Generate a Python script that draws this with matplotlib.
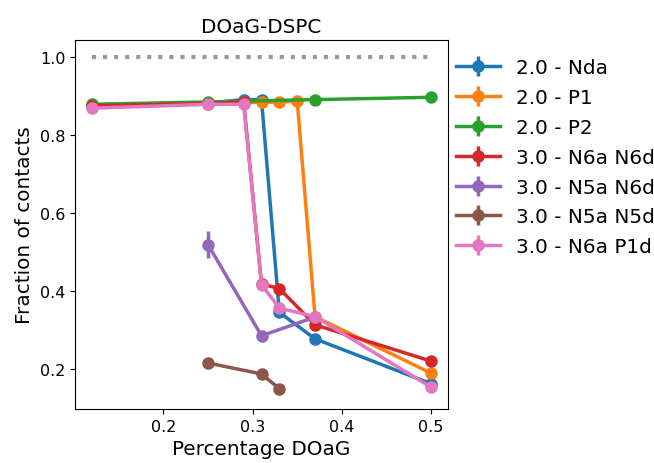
import matplotlib
matplotlib.use("Agg")
import matplotlib.pyplot as plt

# data
labels = ["2.0 - Nda", "2.0 - P1", "2.0 - P2", "3.0 - N6a N6d",
          "3.0 - N5a N6d", "3.0 - N5a N5d", "3.0 - N6a P1d"]

x_nda = [0.12, 0.25, 0.29, 0.31, 0.33, 0.37, 0.5]
y_nda = [0.875, 0.882, 0.891, 0.891, 0.345, 0.277, 0.162]

x_p1 = [0.12, 0.25, 0.29, 0.31, 0.33, 0.35, 0.37, 0.5]
y_p1 = [0.876, 0.883, 0.884, 0.884, 0.885, 0.887, 0.334, 0.189]

x_p2 = [0.12, 0.25, 0.37, 0.5]
y_p2 = [0.879, 0.885, 0.891, 0.897]

x_n6n6 = [0.12, 0.25, 0.29, 0.31, 0.33, 0.37, 0.5]
y_n6n6 = [0.875, 0.881, 0.885, 0.418, 0.406, 0.313, 0.220]

x_n5n6 = [0.25, 0.31, 0.37]
y_n5n6 = [0.519, 0.285, 0.333]
e_n5n6 = [0.035, 0.005, 0.005]

x_n5n5 = [0.25, 0.31, 0.33]
y_n5n5 = [0.215, 0.187, 0.149]

x_n6p1 = [0.12, 0.25, 0.29, 0.31, 0.33, 0.37, 0.5]
y_n6p1 = [0.869, 0.879, 0.879, 0.416, 0.356, 0.334, 0.153]

series = [(x_nda, y_nda, None), (x_p1, y_p1, None), (x_p2, y_p2, None),
          (x_n6n6, y_n6n6, None), (x_n5n6, y_n5n6, e_n5n6),
          (x_n5n5, y_n5n5, None), (x_n6p1, y_n6p1, None)]

fig = plt.figure(figsize=(6.54, 4.64), dpi=100)
ax = fig.add_axes([75 / 654, 54 / 464, 373 / 654, 369 / 464])

for (xs, ys, err), lab in zip(series, labels):
    if err is None:
        err = [0.004] * len(xs)
    ax.errorbar(xs, ys, yerr=err, marker="o", markersize=8, linewidth=2.5,
                elinewidth=2.5, label=lab)

ax.hlines(1.0, 0.12, 0.5, colors="#999999", linestyles=":", linewidth=3)

ax.set_xlim(0.101, 0.519)
ax.set_ylim(0.097, 1.044)
ax.set_xticks([0.2, 0.3, 0.4, 0.5])
ax.set_yticks([0.2, 0.4, 0.6, 0.8, 1.0])
ax.tick_params(labelsize=11.5)
ax.set_title("DOaG-DSPC", fontsize=14.4)
ax.set_xlabel("Percentage DOaG", fontsize=14.4)
ax.set_ylabel("Fraction of contacts", fontsize=14.4)
ax.legend(loc="upper left", bbox_to_anchor=(1.0, 0.972), borderaxespad=0,
          frameon=False, fontsize=14.4, handlelength=2.2, labelspacing=0.54)

fig.savefig("out.png", dpi=100)
